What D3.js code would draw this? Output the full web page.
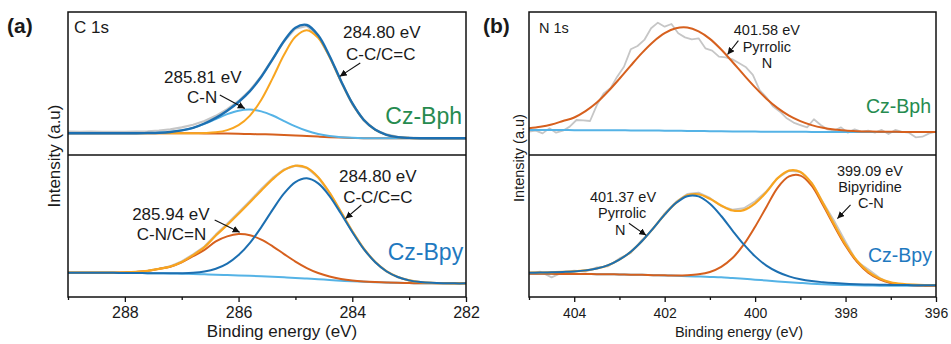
<!DOCTYPE html>
<html>
<head>
<meta charset="utf-8">
<script src="https://cdn.jsdelivr.net/npm/d3@7"></script>
<style>
  body { margin: 0; background: #fff; }
  svg { display: block; }
  text { font-family: Arial, "Liberation Sans", Helvetica, sans-serif; }
</style>
</head>
<body>
<svg id="chart" width="951" height="344"></svg>
<script>
// ---------------- C 1s (binding energy grid, eV) ----------------
const energyC = [289.0,288.8,288.6,288.4,288.2,288.0,287.8,287.6,287.4,287.2,287.0,286.8,286.6,286.4,286.2,286.0,285.8,285.6,285.4,285.2,285.0,284.8,284.6,284.4,284.2,284.0,283.8,283.6,283.4,283.2,283.0,282.8,282.6,282.4,282.2,282.0];

// Cz-Bph, C 1s
const bphC_raw = [16.3,16.1,16.3,16.0,16.1,16.0,16.2,16.5,17.0,17.8,19.2,21.0,23.6,27.2,31.8,37.5,45.0,54.8,66.8,79.0,87.8,89.6,82.5,68.4,51.0,35.2,24.0,17.6,14.3,12.6,12.0,11.8,11.6,11.7,11.6,11.6];
const bphC_bg = [15.1,15.1,15.1,15.1,15.1,15.1,15.1,15.1,15.1,15.1,15.1,15.05,15.0,14.95,14.85,14.7,14.55,14.4,14.2,13.95,13.6,13.2,12.8,12.4,12.1,11.85,11.7,11.65,11.6,11.6,11.6,11.6,11.6,11.6,11.6,11.6];
const bphC_CN = [0,0,0,0,0,0,0,0.13,0.36,0.9,2.0,3.8,6.6,10.0,13.5,16.1,17.0,15.9,13.2,9.6,6.3,3.6,1.8,0.8,0.3,0.1,0,0,0,0,0,0,0,0,0,0];
const bphC_CC = [0,0,0,0,0,0,0,0,0,0,0,0.05,0.26,0.8,2.4,6.0,12.8,24.0,39.2,55.6,68.5,73.5,68.5,55.6,39.2,24.0,12.8,6.0,2.4,0.8,0.26,0.05,0,0,0,0];

// Cz-Bpy, C 1s
const bpyC_raw = [17.2,17.1,17.2,17.1,17.2,17.3,17.7,18.5,19.9,21.6,25.0,30.0,35.5,43.9,51.5,59.5,67.6,76.0,83.8,89.8,92.5,91.0,84.2,73.2,59.8,46.2,34.0,24.6,18.0,14.0,11.7,10.5,9.9,9.7,9.6,9.6];
const bpyC_bg = [17.1,17.1,17.1,17.05,17.0,16.95,16.9,16.8,16.7,16.55,16.4,16.2,16.0,15.75,15.5,15.2,14.9,14.55,14.2,13.85,13.45,13.0,12.5,12.0,11.5,11.05,10.7,10.4,10.15,9.95,9.8,9.7,9.65,9.6,9.6,9.6];
const bpyC_CN = [0,0,0.02,0.05,0.13,0.33,0.76,1.6,3.1,4.8,8.0,12.5,17.2,23.4,27.2,29.1,28.6,25.8,21.5,16.4,11.5,7.4,4.4,2.4,1.2,0.55,0.23,0.09,0.03,0,0,0,0,0,0,0];
const bpyC_CC = [0,0,0,0,0,0,0,0,0,0.1,0.3,0.8,1.9,4.1,8.0,14.3,23.2,34.7,47.3,59.1,67.5,70.6,67.5,59.1,47.3,34.7,23.2,14.3,8.0,4.1,1.9,0.8,0.3,0.1,0,0];

// ---------------- N 1s ----------------
const energyN = [405.0,404.75,404.5,404.25,404.0,403.75,403.5,403.25,403.0,402.75,402.5,402.25,402.0,401.75,401.5,401.25,401.0,400.75,400.5,400.25,400.0,399.75,399.5,399.25,399.0,398.75,398.5,398.25,398.0,397.75,397.5,397.25,397.0,396.75,396.5,396.25,396.0];

// Cz-Bph, N 1s (measured trace on a finer grid)
const energyNraw = [405.00,404.85,404.70,404.55,404.40,404.25,404.10,403.95,403.80,403.65,403.50,403.35,403.20,403.05,402.90,402.75,402.60,402.45,402.30,402.15,402.00,401.85,401.70,401.55,401.40,401.25,401.10,400.95,400.80,400.65,400.50,400.35,400.20,400.05,399.90,399.75,399.60,399.45,399.30,399.15,399.00,398.85,398.70,398.55,398.40,398.25,398.10,397.95,397.80,397.65,397.50,397.35,397.20,397.05,396.90,396.75,396.60,396.45,396.30,396.15,396.00];
const bphN_raw = [16.2,16.9,15.0,18.5,15.5,16.9,19.7,24.3,24.0,23.6,34.7,42.8,46.3,54.4,61.3,73.4,75.7,79.9,88.0,91.9,89.1,91.0,84.5,81.7,80.3,81.0,74.1,72.5,68.3,67.8,66.4,63.7,60.9,55.6,45.1,40.0,33.6,30.1,25.5,22.5,20.8,19.2,24.8,20.8,17.8,16.9,19.2,15.5,17.8,16.2,16.9,15.5,17.4,14.6,17.4,16.0,15.5,12.3,12.7,15.0,16.2];
const bphN_bg = [17.3,17.3,17.3,17.3,17.25,17.25,17.2,17.2,17.15,17.1,17.05,17.0,16.9,16.85,16.75,16.65,16.55,16.45,16.4,16.3,16.25,16.2,16.15,16.1,16.1,16.05,16.05,16.05,16.05,16.05,16.05,16.05,16.05,16.05,16.05,16.05,16.05];
const bphN_pyr = [1.3,2.3,3.9,6.3,8.8,13.2,19.2,27.0,35.8,45.0,53.9,61.7,67.7,71.2,71.8,69.2,64.1,56.8,48.2,39.3,30.7,22.9,16.4,11.2,7.4,4.7,2.8,1.6,0.9,0.5,0.25,0.1,0.05,0,0,0,0];

// Cz-Bpy, N 1s
const bpyN_raw = [17.0,17.8,13.8,17.5,18.6,17.9,20.8,21.6,27.2,31.0,40.2,48.0,58.9,67.0,72.6,73.5,69.8,64.0,61.6,62.5,67.4,74.5,83.8,88.9,88.2,80.6,66.8,53.5,38.9,25.0,19.5,13.5,9.4,8.6,8.0,7.6,8.2];
const bpyN_bg = [16.3,16.3,16.3,16.25,16.2,16.15,16.1,16.0,15.9,15.75,15.6,15.4,15.2,14.95,14.7,14.45,14.15,13.85,13.3,12.8,12.2,11.6,11.0,10.4,9.9,9.4,9.0,8.7,8.45,8.25,8.1,8.0,7.95,7.9,7.9,7.9,7.9];
const bpyN_pyr = [0.8,0.9,1.1,1.4,1.8,2.6,4.0,6.4,10.4,16.1,23.8,33.1,42.8,51.2,56.3,56.4,51.5,43.2,33.5,24.2,16.4,10.5,6.6,4.1,2.6,1.8,1.4,1.1,0.9,0.8,0.7,0.6,0.55,0.5,0.45,0.4,0.37];
const bpyN_bip = [0,0,0,0,0,0,0,0,0,0,0,0,0.06,0.2,0.6,1.5,3.5,7.4,14.1,24.2,37.3,51.8,66.1,74.5,75.6,69.0,55.7,41.3,27.6,16.6,9.0,4.4,1.9,0.8,0.3,0.1,0.03];

// Tick labels
const ticksC = [288, 286, 284, 282];
const minorC = [289, 287, 285, 283];
const ticksN = [404, 402, 400, 398, 396];
const minorN = [405, 403, 401, 399, 397];

// ---------------- styling ----------------
const INK = "#1a1a1a";
const COL = {
  raw: "#c6c6c6",
  blue: "#1c6fb1",
  orange: "#f8a520",
  rust: "#d6601e",
  sky: "#55b3e6",
  green: "#268b4f",
  bpyText: "#1f79bf"
};

const svg = d3.select("#chart");
const defs = svg.append("defs");
defs.append("marker")
  .attr("id", "arrowHead")
  .attr("viewBox", "0 0 10 10")
  .attr("refX", 10).attr("refY", 5)
  .attr("markerWidth", 7).attr("markerHeight", 7)
  .attr("markerUnits", "userSpaceOnUse")
  .attr("orient", "auto")
  .append("path").attr("d", "M0,0 L10,5 L0,10 z").attr("fill", "#111");

// Add the background to every component, and build the envelope as bg + sum of components
const onBg = (bg, comp) => bg.map((b, i) => b + comp[i]);
const envelope = (bg, comps) => bg.map((b, i) => b + d3.sum(comps, c => c[i]));

function drawPanel(p) {
  const x = d3.scaleLinear().domain(p.xDomain).range([p.left, p.right]);
  const yTop = d3.scaleLinear().domain([0, 100]).range([p.mid, p.top - 1]);
  const yBot = d3.scaleLinear().domain([0, 100]).range([p.bottom, p.mid]);
  const g = svg.append("g");

  [["top", p.top, p.mid], ["bot", p.mid, p.bottom]].forEach(([k, y0, y1]) => {
    defs.append("clipPath").attr("id", `clip-${p.id}-${k}`)
      .append("rect").attr("x", p.left).attr("y", y0).attr("width", p.right - p.left).attr("height", y1 - y0);
  });

  function drawSeries(sub, y, series) {
    const layer = g.append("g").attr("clip-path", `url(#clip-${p.id}-${sub})`);
    series.forEach(s => {
      const line = d3.line()
        .x((d, i) => x(s.e[i]))
        .y(d => y(d))
        .curve(s.smooth ? d3.curveCatmullRom.alpha(0.5) : d3.curveLinear);
      layer.append("path")
        .attr("d", line(s.v))
        .attr("fill", "none")
        .attr("stroke", s.color)
        .attr("stroke-width", s.width)
        .attr("stroke-linejoin", "round");
    });
  }
  drawSeries("top", yTop, p.topSeries);
  drawSeries("bot", yBot, p.botSeries);

  // frame, divider
  g.append("rect").attr("x", p.left).attr("y", p.top)
    .attr("width", p.right - p.left).attr("height", p.bottom - p.top)
    .attr("fill", "none").attr("stroke", "#111").attr("stroke-width", 1.5);
  g.append("line").attr("x1", p.left).attr("x2", p.right)
    .attr("y1", p.mid).attr("y2", p.mid)
    .attr("stroke", "#111").attr("stroke-width", 1.5);

  // x axis
  const ax = g.append("g").attr("transform", `translate(0,${p.bottom})`)
    .call(d3.axisBottom(x).tickValues(p.ticks).tickSize(5).tickPadding(p.tickPad).tickFormat(d3.format("d")));
  ax.select(".domain").remove();
  ax.selectAll("line").attr("stroke", "#111").attr("stroke-width", 1.3);
  ax.selectAll("text").attr("font-size", p.tickFont).attr("font-family", "Arial, 'Liberation Sans', sans-serif").attr("fill", INK);
  const axm = g.append("g").attr("transform", `translate(0,${p.bottom})`)
    .call(d3.axisBottom(x).tickValues(p.minor).tickSize(3).tickFormat(""));
  axm.select(".domain").remove();
  axm.selectAll("line").attr("stroke", "#111").attr("stroke-width", 1.3);

  // axis titles
  g.append("text").attr("x", p.xTitleX).attr("y", 337).attr("text-anchor", "middle")
    .attr("font-size", p.titleFont).attr("fill", INK).text("Binding energy (eV)");
  g.append("text").attr("transform", `translate(${p.yTitleX},${p.yTitleY}) rotate(-90)`)
    .attr("text-anchor", "middle").attr("font-size", p.titleFont).attr("fill", INK).text("Intensity (a.u)");

  // panel letter and core level
  g.append("text").attr("x", p.letterX).attr("y", 33).attr("font-size", 21).attr("font-weight", "bold").attr("fill", INK).text(p.letter);
  g.append("text").attr("x", p.left + p.levelDx).attr("y", 33).attr("font-size", p.levelFont).attr("fill", INK).text(p.level);

  // annotations (anchored in data units)
  p.notes.forEach(n => {
    const y = n.sub === "top" ? yTop : yBot;
    n.lines.forEach(l => {
      g.append("text").attr("x", x(l.e)).attr("y", y(l.i))
        .attr("text-anchor", l.anchor || "middle")
        .attr("font-size", l.size || p.noteFont)
        .attr("fill", l.color || INK)
        .text(l.t);
    });
    if (n.arrow) {
      const [a, b] = n.arrow;
      g.append("line")
        .attr("x1", x(a[0])).attr("y1", y(a[1]))
        .attr("x2", x(b[0])).attr("y2", y(b[1]))
        .attr("stroke", "#111").attr("stroke-width", 1.1)
        .attr("marker-end", "url(#arrowHead)");
    }
  });
}

// ---------------- panel (a): C 1s ----------------
drawPanel({
  id: "a", letter: "(a)", letterX: 7, level: "C 1s", levelDx: 6, levelFont: 17,
  xDomain: [289, 282], left: 68, right: 466, top: 12, mid: 155, bottom: 297,
  ticks: ticksC, minor: minorC, tickFont: 16, tickPad: 4.5, titleFont: 17,
  xTitleX: 282, yTitleX: 60, yTitleY: 156, noteFont: 17,
  topSeries: [
    { e: energyC, v: bphC_raw, color: COL.raw, width: 2.2 },
    { e: energyC, v: bphC_bg, color: COL.rust, width: 2, smooth: true },
    { e: energyC, v: onBg(bphC_bg, bphC_CN), color: COL.sky, width: 2, smooth: true },
    { e: energyC, v: onBg(bphC_bg, bphC_CC), color: COL.orange, width: 2, smooth: true },
    { e: energyC, v: envelope(bphC_bg, [bphC_CN, bphC_CC]), color: COL.blue, width: 2.4, smooth: true }
  ],
  botSeries: [
    { e: energyC, v: bpyC_raw, color: COL.raw, width: 2.2 },
    { e: energyC, v: bpyC_bg, color: COL.sky, width: 2, smooth: true },
    { e: energyC, v: onBg(bpyC_bg, bpyC_CN), color: COL.rust, width: 2, smooth: true },
    { e: energyC, v: envelope(bpyC_bg, [bpyC_CN, bpyC_CC]), color: COL.orange, width: 2.2, smooth: true },
    { e: energyC, v: onBg(bpyC_bg, bpyC_CC), color: COL.blue, width: 2, smooth: true }
  ],
  notes: [
    { sub: "top", lines: [{ t: "285.81 eV", e: 286.63, i: 50 }, { t: "C-N", e: 286.64, i: 36.1 }],
      arrow: [[286.33, 41.7], [285.89, 32.3]] },
    { sub: "top", lines: [{ t: "284.80 eV", e: 283.48, i: 81.3 }, { t: "C-C/C=C", e: 283.50, i: 66 }],
      arrow: [[283.86, 63.9], [284.22, 54.6]] },
    { sub: "top", lines: [{ t: "Cz-Bph", e: 282.07, i: 21.5, anchor: "end", size: 23, color: COL.green }] },
    { sub: "bot", lines: [{ t: "285.94 eV", e: 287.19, i: 54.2 }, { t: "C-N/C=N", e: 287.18, i: 40.1 }],
      arrow: [[286.42, 54.2], [285.98, 45.6]] },
    { sub: "bot", lines: [{ t: "284.80 eV", e: 283.55, i: 81.2 }, { t: "C-C/C=C", e: 283.55, i: 66 }],
      arrow: [[283.84, 64.8], [284.12, 55.2]] },
    { sub: "bot", lines: [{ t: "Cz-Bpy", e: 282.05, i: 26, anchor: "end", size: 23, color: COL.bpyText }] }
  ]
});

// ---------------- panel (b): N 1s ----------------
drawPanel({
  id: "b", letter: "(b)", letterX: 483, level: "N 1s", levelDx: 10, levelFont: 14.5,
  xDomain: [405, 396], left: 529, right: 936, top: 12, mid: 155, bottom: 297,
  ticks: ticksN, minor: minorN, tickFont: 14, tickPad: 6, titleFont: 14.5,
  xTitleX: 739, yTitleX: 524, yTitleY: 158, noteFont: 14.5,
  topSeries: [
    { e: energyNraw, v: bphN_raw, color: COL.raw, width: 1.8 },
    { e: energyN, v: bphN_bg, color: COL.sky, width: 2, smooth: true },
    { e: energyN, v: onBg(bphN_bg, bphN_pyr), color: COL.rust, width: 2, smooth: true }
  ],
  botSeries: [
    { e: energyN, v: bpyN_raw, color: COL.raw, width: 1.8 },
    { e: energyN, v: bpyN_bg, color: COL.sky, width: 2, smooth: true },
    { e: energyN, v: onBg(bpyN_bg, bpyN_bip), color: COL.rust, width: 2, smooth: true },
    { e: energyN, v: envelope(bpyN_bg, [bpyN_pyr, bpyN_bip]), color: COL.orange, width: 2.2, smooth: true },
    { e: energyN, v: onBg(bpyN_bg, bpyN_pyr), color: COL.blue, width: 2, smooth: true }
  ],
  notes: [
    { sub: "top", lines: [{ t: "401.58 eV", e: 399.74, i: 83.3 }, { t: "Pyrrolic", e: 399.74, i: 71.7 }, { t: "N", e: 399.74, i: 60.2 }],
      arrow: [[400.37, 79.4], [400.61, 69.8]] },
    { sub: "top", lines: [{ t: "Cz-Bph", e: 396.11, i: 29, anchor: "end", size: 19.5, color: COL.green }] },
    { sub: "bot", lines: [{ t: "401.37 eV", e: 402.92, i: 67.1 }, { t: "Pyrrolic", e: 402.94, i: 55.4 }, { t: "N", e: 402.98, i: 43.7 }],
      arrow: [[402.79, 51.9], [402.41, 43.4]] },
    { sub: "bot", lines: [{ t: "399.09 eV", e: 397.46, i: 85.4 }, { t: "Bipyridine", e: 397.46, i: 73.7 }, { t: "C-N", e: 397.44, i: 62.5 }],
      arrow: [[397.89, 64.8], [398.18, 55.2]] },
    { sub: "bot", lines: [{ t: "Cz-Bpy", e: 396.09, i: 24.9, anchor: "end", size: 19.5, color: COL.bpyText }] }
  ]
});
</script>
</body>
</html>
